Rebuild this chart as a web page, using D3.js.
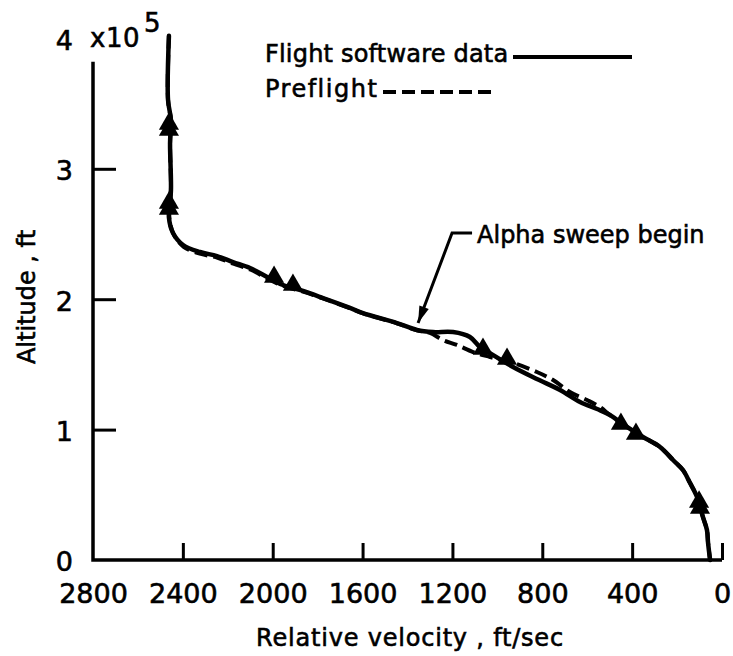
<!DOCTYPE html>
<html>
<head>
<meta charset="utf-8">
<script src="https://cdn.jsdelivr.net/npm/d3@7/dist/d3.min.js"></script>
<style>
  html, body { margin: 0; padding: 0; background: #fff; }
  svg { display: block; }
  text { font-family: "DejaVu Sans", sans-serif; fill: #000; stroke: #000; stroke-width: 0.6px; }
</style>
</head>
<body>
<svg id="chart" width="733" height="656"></svg>
<script>
// ---- data (velocity ft/sec, altitude ft) ----
const velocityTicks = [2800, 2400, 2000, 1600, 1200, 800, 400, 0];
const altitudeTicks = [0, 100000, 200000, 300000, 400000];
const altitudeTickMarks = [100000, 200000, 300000];
const velocityTickMarks = [2400, 2000, 1600, 1200, 800, 400, 0];

const softwareVelocity = [2462, 2466, 2453, 2457, 2453, 2462, 2444, 2399, 2324, 2248, 2177, 2101, 2025, 1954, 1865, 1776, 1656, 1598, 1447, 1358, 1286, 1197, 1122, 1077, 1033, 930, 824, 721, 632, 556, 499, 423, 352, 276, 218, 174, 142, 111, 85, 67, 62, 53];
const softwareAltitude = [402000, 352800, 337400, 319800, 283700, 262600, 250800, 241600, 236200, 233100, 228500, 223900, 217000, 210900, 206300, 200900, 193300, 189400, 181700, 176400, 174800, 174800, 171000, 163300, 158700, 148000, 138800, 130400, 121200, 115800, 111200, 102000, 94300, 86700, 76700, 69000, 59000, 48300, 33000, 23000, 13000, 0];

const preflightVelocity = [2462, 2466, 2453, 2457, 2453, 2460, 2440, 2395, 2320, 2245, 2175, 2100, 2025, 1954, 1865, 1776, 1656, 1598, 1447, 1358, 1300, 1242, 1180, 1108, 1033, 930, 824, 752, 677, 601, 543, 499, 423, 352, 276, 218, 174, 142, 111, 85, 67, 62, 53];
const preflightAltitude = [402000, 352800, 337400, 319800, 283700, 262000, 249500, 240000, 234800, 231800, 227200, 222800, 216000, 210200, 205800, 200600, 193100, 189200, 181500, 176200, 174100, 168700, 164900, 159500, 155700, 151100, 144200, 138000, 128800, 122700, 117300, 111200, 102000, 94300, 86700, 76700, 69000, 59000, 48300, 33000, 23000, 13000, 0];

const markerVelocity = [2462, 2462, 2462, 2462, 1994, 1910, 1064, 957, 450, 383, 102, 98];
const markerAltitude = [334400, 329800, 273800, 269200, 217000, 210900, 161800, 154100, 104300, 96600, 44500, 39900];

const legendLabels = ["Flight software data", "Preflight"];
const annotationLabel = "Alpha sweep begin";
const annotationVelocity = 1353, annotationAltitude = 181700;

// ---- scales ----
const svg = d3.select("#chart");
const x = d3.scaleLinear().domain([2800, 0]).range([93, 722]);
const y = d3.scaleLinear().domain([0, 400000]).range([560, 38.4]);
const yAxisTop = 382000;

const zip = (a, b) => a.map((v, i) => [v, b[i]]);
const software = zip(softwareVelocity, softwareAltitude);
const preflight = zip(preflightVelocity, preflightAltitude);
const markers = zip(markerVelocity, markerAltitude);

// ---- axes ----
const xLab = svg.append("g").attr("transform", `translate(0,${y(0)})`)
  .call(d3.axisBottom(x).tickValues(velocityTicks).tickSize(0).tickPadding(24).tickFormat(d3.format("d")));
xLab.select(".domain").remove();
xLab.selectAll("text").attr("font-size", 27).attr("font-family", "DejaVu Sans").attr("fill", "#000");

const yLab = svg.append("g").attr("transform", `translate(${x(2800)},0)`)
  .call(d3.axisLeft(y).tickValues(altitudeTicks).tickSize(0).tickPadding(20).tickFormat(d => d / 100000));
yLab.select(".domain").remove();
yLab.selectAll("text").attr("font-size", 27).attr("font-family", "DejaVu Sans").attr("fill", "#000").attr("dy", "0.4em");

const xT = svg.append("g").attr("transform", `translate(0,${y(0)})`)
  .call(d3.axisBottom(x).tickValues(velocityTickMarks).tickSize(-17).tickFormat(""));
xT.select(".domain").remove();
xT.selectAll("line").attr("stroke", "#000").attr("stroke-width", 3);

const yT = svg.append("g").attr("transform", `translate(${x(2800)},0)`)
  .call(d3.axisLeft(y).tickValues(altitudeTickMarks).tickSize(-23).tickFormat(""));
yT.select(".domain").remove();
yT.selectAll("line").attr("stroke", "#000").attr("stroke-width", 3);

svg.append("path")
  .attr("d", `M${x(2800)},${y(yAxisTop)}V${y(0)}H${x(0)}`)
  .attr("fill", "none").attr("stroke", "#000").attr("stroke-width", 3.5)
  .attr("stroke-linejoin", "miter");

// exponent label
const y4 = y(400000);
svg.append("text").attr("x", x(2800) - 3).attr("y", y4 + 9).attr("font-size", 26).attr("letter-spacing", 0.5).text("x10");
svg.append("text").attr("x", x(2800) + 51).attr("y", y4 - 6).attr("font-size", 26).text("5");

// axis titles
svg.append("text").attr("x", 410).attr("y", 646).attr("text-anchor", "middle")
  .attr("font-size", 24).attr("letter-spacing", 0.8).text("Relative velocity , ft/sec");
svg.append("text").attr("transform", "translate(35,297) rotate(-90)").attr("text-anchor", "middle")
  .attr("font-size", 24).text("Altitude , ft");

// ---- lines ----
const line = d3.line().x(d => x(d[0])).y(d => y(d[1])).curve(d3.curveCatmullRom.alpha(0.5));
svg.append("path").datum(preflight).attr("d", line)
  .attr("fill", "none").attr("stroke", "#000").attr("stroke-width", 4)
  .attr("stroke-dasharray", "13,6");
svg.append("path").datum(software).attr("d", line)
  .attr("fill", "none").attr("stroke", "#000").attr("stroke-width", 4.5)
  .attr("stroke-linecap", "round").attr("stroke-linejoin", "round");

// markers
svg.append("g").selectAll("path").data(markers).join("path")
  .attr("transform", d => `translate(${x(d[0])},${y(d[1])})`)
  .attr("d", d3.symbol(d3.symbolTriangle, 175))
  .attr("fill", "#000");

// ---- legend ----
svg.append("text").attr("x", 265).attr("y", 62).attr("font-size", 24).attr("letter-spacing", 0.2).text(legendLabels[0]);
svg.append("line").attr("x1", 513).attr("x2", 632).attr("y1", 57).attr("y2", 57)
  .attr("stroke", "#000").attr("stroke-width", 4);
svg.append("text").attr("x", 265).attr("y", 97).attr("font-size", 24).attr("letter-spacing", 1.5).text(legendLabels[1]);
svg.append("line").attr("x1", 383).attr("x2", 492).attr("y1", 92).attr("y2", 92)
  .attr("stroke", "#000").attr("stroke-width", 4).attr("stroke-dasharray", "13,6");

// ---- annotation ----
const tipX = x(annotationVelocity), tipY = y(annotationAltitude);
const elbowX = tipX + 34, elbowY = tipY - 90;
svg.append("path").attr("d", `M${elbowX + 20},${elbowY}H${elbowX}L${tipX},${tipY}`)
  .attr("fill", "none").attr("stroke", "#000").attr("stroke-width", 3);
const dx = tipX - elbowX, dy = tipY - elbowY, len = Math.hypot(dx, dy);
const ux = dx / len, uy = dy / len, hl = 17, hw = 5;
const bx = tipX - ux * hl, by = tipY - uy * hl;
svg.append("path")
  .attr("d", `M${tipX},${tipY}L${bx - uy * hw},${by + ux * hw}L${bx + uy * hw},${by - ux * hw}Z`)
  .attr("fill", "#000");
svg.append("text").attr("x", elbowX + 25).attr("y", elbowY + 10).attr("font-size", 24).text(annotationLabel);
</script>
</body>
</html>
